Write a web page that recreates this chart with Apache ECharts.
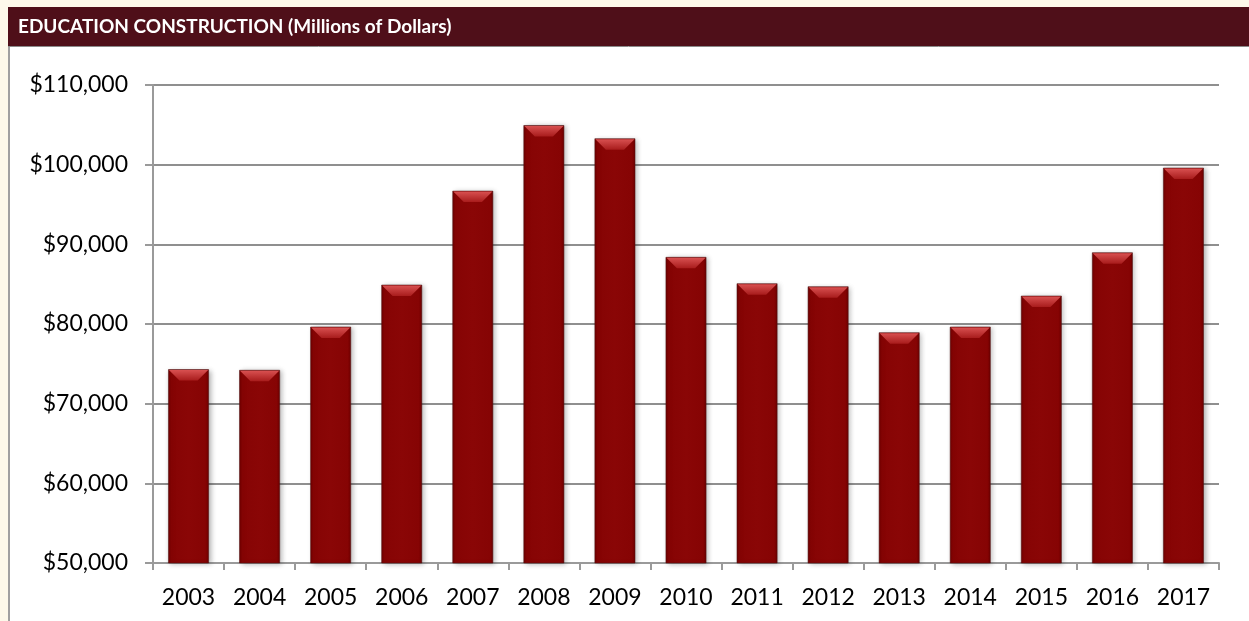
<!DOCTYPE html>
<html>
<head>
<meta charset="utf-8">
<script src="https://cdn.jsdelivr.net/npm/echarts@6/dist/echarts.min.js"></script>
<style>
html,body{margin:0;padding:0;background:#fdf9ea;}
#chart{width:1249px;height:621px;}
</style>
</head>
<body>
<div id="chart"></div>
<script>
const title = 'EDUCATION CONSTRUCTION (Millions of Dollars)';
const years = ['2003','2004','2005','2006','2007','2008','2009','2010','2011','2012','2013','2014','2015','2016','2017'];
const spending = [74280, 74190, 79620, 84890, 96680, 104920, 103260, 88370, 85060, 84680, 78910, 79620, 83510, 88950, 99570];
const yMin = 50000, yMax = 110000, yStep = 10000;

const chart = echarts.init(document.getElementById('chart'), null, {renderer: 'canvas'});

function renderBar(params, api) {
  const idx = api.value(0);
  const top = api.coord([idx, api.value(1)]);
  const base = api.coord([idx, yMin]);
  const bw = api.size([1, 0])[0] * 0.565;
  const x0 = top[0] - bw / 2;
  const h = base[1] - top[1];
  const bev = 11, inset = 11;
  return {
    type: 'group',
    children: [
      {
        type: 'rect',
        shape: {x: x0, y: top[1], width: bw, height: h},
        style: {
          fill: new echarts.graphic.LinearGradient(0, 0, 1, 0, [
            {offset: 0, color: '#6e0000'},
            {offset: 0.08, color: '#860404'},
            {offset: 0.5, color: '#8a0606'},
            {offset: 0.92, color: '#860404'},
            {offset: 1, color: '#6a0000'}
          ]),
          stroke: 'rgba(80,20,20,0.55)',
          lineWidth: 1,
          shadowBlur: 5,
          shadowOffsetX: 2,
          shadowOffsetY: 1,
          shadowColor: 'rgba(0,0,0,0.28)'
        }
      },
      {
        type: 'polygon',
        shape: {points: [[x0 + 0.5, top[1] + 0.5], [x0 + bw - 0.5, top[1] + 0.5], [x0 + bw - inset, top[1] + bev], [x0 + inset, top[1] + bev]]},
        style: {
          fill: new echarts.graphic.LinearGradient(0, 0, 0, 1, [
            {offset: 0, color: '#d85050'},
            {offset: 1, color: '#a81c1c'}
          ])
        }
      }
    ]
  };
}

const option = {
  backgroundColor: '#fdf9ea',
  animation: false,
  graphic: [
    {type: 'rect', z: -10, shape: {x: 9, y: 45, width: 1250, height: 590}, style: {fill: '#ffffff', stroke: '#a0a0a0', lineWidth: 2}},
    {type: 'rect', z: -9, shape: {x: 8, y: 7, width: 1245, height: 39}, style: {fill: '#4f0f19'}},
    {type: 'line', z: -9, shape: {x1: 8, y1: 46.5, x2: 1249, y2: 46.5}, style: {stroke: '#8a8a8a', lineWidth: 1}},
    {type: 'text', z: -8, x: 18, y: 27, style: {text: title, fill: '#ffffff', font: 'bold 19px Lato', verticalAlign: 'middle'}}
  ],
  grid: {left: 153, right: 30, top: 85, bottom: 58, containLabel: false},
  xAxis: {
    type: 'category',
    data: years,
    boundaryGap: true,
    axisLine: {show: true, lineStyle: {color: '#9a9a9a', width: 2}},
    axisTick: {show: true, length: 7, alignWithLabel: false, lineStyle: {color: '#9a9a9a', width: 2}},
    axisLabel: {color: '#000', fontFamily: 'Lato', fontSize: 23, margin: 23},
    splitLine: {show: false}
  },
  yAxis: {
    type: 'value',
    min: yMin, max: yMax, interval: yStep,
    axisLine: {show: true, lineStyle: {color: '#9a9a9a', width: 2}},
    axisTick: {show: true, length: 8, lineStyle: {color: '#9a9a9a', width: 2}},
    axisLabel: {color: '#000', fontFamily: 'Lato', fontSize: 23, margin: 25,
      formatter: v => '$' + v.toLocaleString('en-US')},
    splitLine: {show: true, lineStyle: {color: '#8f8f8f', width: 2}}
  },
  series: [{
    type: 'custom',
    renderItem: renderBar,
    encode: {x: 0, y: 1},
    data: spending.map((v, i) => [i, v]),
    clip: false
  }]
};
chart.setOption(option);
</script>
</body>
</html>
